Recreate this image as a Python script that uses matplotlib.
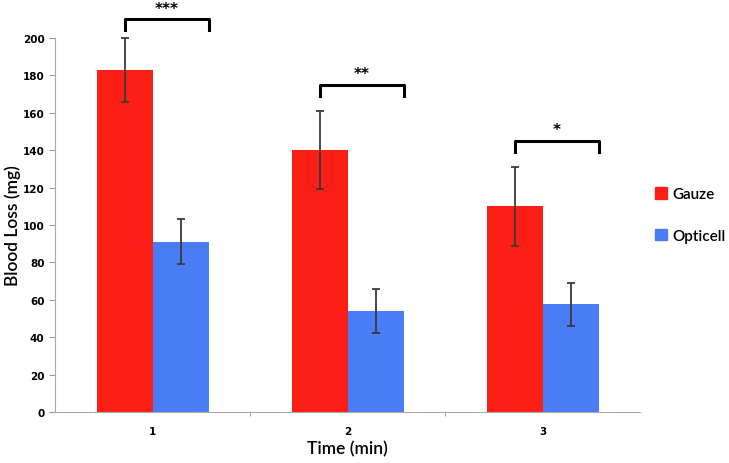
import matplotlib

matplotlib.use("Agg")
import matplotlib.pyplot as plt  # noqa: E402
import numpy as np  # noqa: E402
from matplotlib.patches import Patch  # noqa: E402

times = ["1", "2", "3"]
gauze = [183, 140, 110]
gauze_err = [17, 21, 21]
opticell = [91, 54, 57.5]
opticell_err = [12, 12, 11.5]
stars = ["***", "**", "*"]
bracket_y = [210, 175, 145]

RED = "#fa1e14"
BLUE = "#4a7cf7"
LABEL_FONT = ["Lato", "DejaVu Sans"]

fig = plt.figure(figsize=(7.29, 4.64), dpi=100)
ax = fig.add_axes([0.0754, 0.110, 0.803, 0.806])

x = np.arange(len(times))
w = 0.287
ax.bar(x - w / 2, gauze, w, color=RED, label="Gauze", zorder=2)
ax.bar(x + w / 2, opticell, w, color=BLUE, label="Opticell", zorder=2)
ax.errorbar(x - w / 2, gauze, yerr=gauze_err, fmt="none", ecolor="#3a3a3a",
            elinewidth=1.3, capsize=3, capthick=1.3, zorder=3, clip_on=False)
ax.errorbar(x + w / 2, opticell, yerr=opticell_err, fmt="none", ecolor="#3a3a3a",
            elinewidth=1.3, capsize=3, capthick=1.3, zorder=3, clip_on=False)

# significance brackets
for xi, yb, s in zip(x, bracket_y, stars):
    x0, x1 = xi - w / 2, xi + w
    ax.plot([x0, x0, x1, x1], [yb - 6, yb, yb, yb - 6], color="black", lw=2.2,
            solid_joinstyle="round", clip_on=False, zorder=4)
    ax.text((x0 + x1) / 2, yb + 2, s, ha="center", va="bottom", fontsize=11,
            fontweight="bold", clip_on=False)

ax.set_xlim(-0.5, 2.5)
ax.set_ylim(0, 200)
ax.set_yticks(np.arange(0, 201, 20))
ax.set_xticks(x)
ax.set_xticklabels(times)
ax.set_xticks([0.5, 1.5], minor=True)
ax.tick_params(axis="x", which="major", length=0, pad=10, labelsize=7.5)
ax.tick_params(axis="x", which="minor", length=3, color="#999999")
ax.tick_params(axis="y", length=4, color="#999999", labelsize=7.5)
for lab in ax.get_xticklabels() + ax.get_yticklabels():
    lab.set_fontweight("bold")
for side in ("top", "right"):
    ax.spines[side].set_visible(False)
for side in ("left", "bottom"):
    ax.spines[side].set_color("#aaaaaa")
ax.set_xlabel("Time (min)", fontsize=12.5, labelpad=3, family=LABEL_FONT,
              fontweight="semibold")
ax.set_ylabel("Blood Loss (mg)", fontsize=12.5, labelpad=1, family=LABEL_FONT,
              fontweight="semibold")

handles = [Patch(color=RED, label="Gauze"), Patch(color=BLUE, label="Opticell")]
fig.legend(handles=handles, loc="upper left", bbox_to_anchor=(0.884, 0.618),
           frameon=False, handlelength=0.8, handleheight=0.8,
           handletextpad=0.35, labelspacing=1.8, borderpad=0.2,
           prop={"family": LABEL_FONT, "size": 11, "weight": "semibold"})

fig.savefig("out.png", dpi=100)
